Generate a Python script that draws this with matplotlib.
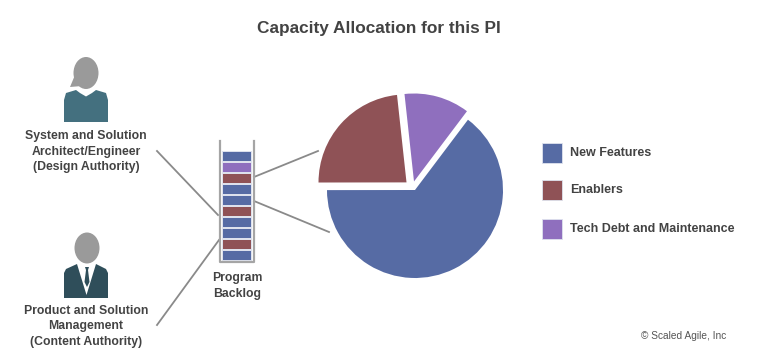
import matplotlib
matplotlib.use('Agg')
import matplotlib.pyplot as plt
from matplotlib.patches import Ellipse, Polygon, Rectangle

W, H = 757, 357

# pie values, in legend order
categories = ['New Features', 'Enablers', 'Tech Debt and Maintenance']
shares = [64.7, 23.3, 12.0]
colors = ['#566ba4', '#8f5256', '#8f6fbe']

# backlog stack, top to bottom
backlog_items = ['New Features', 'Tech Debt and Maintenance', 'Enablers', 'New Features', 'New Features',
                 'Enablers', 'New Features', 'New Features', 'Enablers', 'New Features']

TEXT = '#434343'
LINE = '#8a8a8a'
plt.rcParams['font.family'] = ['Liberation Sans', 'DejaVu Sans']


def Y(y):
    return H - y


fig = plt.figure(figsize=(W / 100, H / 100), dpi=100)
ax = fig.add_axes([0, 0, 1, 1])

# pie, explode is in data units here because the radius is in pixels
wedges, _ = ax.pie(shares, colors=colors, startangle=53, counterclock=False,
                   explode=[0, 11.4, 9], radius=88, center=(415, Y(190)), frame=False,
                   wedgeprops={'edgecolor': 'none'})
# purple slice sits a bit left of its own mid-angle in the original
wedges[2].set_center((414, Y(181.5)))
ax.set_xlim(0, W)
ax.set_ylim(0, H)
ax.set_aspect('equal')
ax.axis('off')

# connector lines
for (x0, y0), (x1, y1) in [((157, 151), (218, 215)), ((157, 325), (219, 240)),
                           ((254, 177), (318, 151)), ((254, 201), (329, 232))]:
    ax.plot([x0, x1], [Y(y0), Y(y1)], color=LINE, lw=1.3)

# backlog
color_of = dict(zip(categories, colors))
centers = [Y(156 + 11 * i) for i in range(len(backlog_items))]
ax.barh(centers, [29] * len(backlog_items), left=222, height=9.5,
        color=[color_of[b] for b in backlog_items], edgecolor='#dfe3ee', lw=0.7)
ax.plot([219.5, 219.5, 253.5, 253.5], [Y(141), Y(262), Y(262), Y(141)], color='#a5a5a5', lw=1.6)

# female figure
ax.add_patch(Polygon([(x, Y(y)) for x, y in [(64, 122), (64, 100), (66, 93), (76, 90), (80, 93), (86, 96.5),
                                             (92, 93), (96, 90), (106, 93), (108, 100), (108, 122)]],
                     closed=True, color='#44707f', lw=0))
ax.add_patch(Ellipse((86, Y(73)), 25, 32, color='#9a9a9a', lw=0))
ax.add_patch(Polygon([(x, Y(y)) for x, y in [(75, 75), (70, 87), (82, 86)]], closed=True, color='#9a9a9a', lw=0))

# male figure
ax.add_patch(Polygon([(x, Y(y)) for x, y in [(64, 298), (64, 273), (66, 269), (77, 264), (96, 264),
                                             (106, 269), (108, 273), (108, 298)]],
                     closed=True, color='#2f4e5a', lw=0))
ax.add_patch(Polygon([(x, Y(y)) for x, y in [(77, 264), (86.5, 295), (96, 264)]], closed=True, color='white', lw=0))
ax.add_patch(Polygon([(x, Y(y)) for x, y in [(85, 267), (89, 267), (88, 270), (89.5, 282), (87, 287),
                                             (84.5, 282), (86, 270)]], closed=True, color='#2f4e5a', lw=0))
ax.add_patch(Ellipse((87, Y(248)), 25, 31, color='#9a9a9a', lw=0))

# text
ax.text(379, Y(29), 'Capacity Allocation for this PI', ha='center', va='center',
        fontsize=12.4, fontweight='bold', color=TEXT)
for text, x, y in [('System and Solution\nArchitect/Engineer\n(Design Authority)', 86, 151.5),
                   ('Product and Solution\nManagement\n(Content Authority)', 86, 326.5),
                   ('Program\nBacklog', 237, 286)]:
    ax.text(x, Y(y), text, ha='center', va='center', fontsize=8.8, fontweight='bold',
            color=TEXT, linespacing=1.4)

# legend
for name, c, y in zip(categories, colors, [152.5, 190, 229]):
    ax.add_patch(Rectangle((542, Y(y) - 10), 20, 20, facecolor=c, edgecolor='#dfe3ee', lw=0.6))
    ax.text(570, Y(y), name, ha='left', va='center', fontsize=9, fontweight='bold', color=TEXT)

ax.text(726, Y(336), '© Scaled Agile, Inc', ha='right', va='center', fontsize=7.3, color='#555555')

fig.savefig('out.png', dpi=100, facecolor='white')
